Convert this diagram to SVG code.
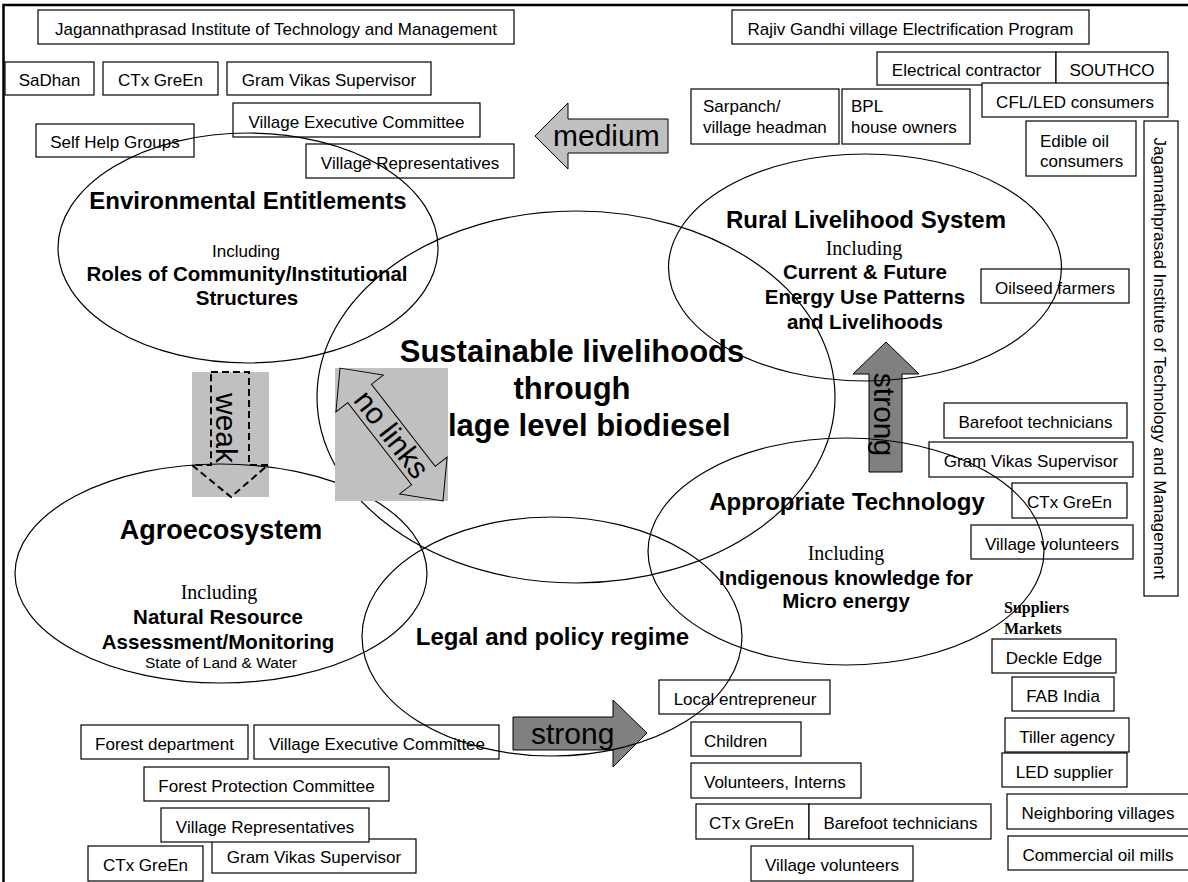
<svg xmlns="http://www.w3.org/2000/svg" width="1188" height="882" viewBox="0 0 1188 882">
  <style>
    .box rect { fill: #fff; stroke: #000; stroke-width: 1.2; }
    .box text { font-family: "Liberation Sans", Arial, sans-serif; font-size: 17px; text-anchor: middle; fill: #000; }
    .box text.l { text-anchor: start; }
    .ell { fill: none; stroke: #000; stroke-width: 1.2; }
    .h { font-family: "Liberation Sans", Arial, sans-serif; font-weight: bold; text-anchor: middle; fill: #000; }
    .s { font-family: "Liberation Sans", Arial, sans-serif; text-anchor: middle; fill: #000; }
    .inc { font-family: "Liberation Serif", "Times New Roman", serif; font-size: 20px; text-anchor: middle; fill: #000; }
    .lbl { font-family: "Liberation Sans", Arial, sans-serif; font-size: 30px; fill: #000; }
    .lt { fill: #c0c0c0; stroke: #000; stroke-width: 1; }
    .dk { fill: #808080; stroke: #000; stroke-width: 1; }
    .dash { fill: none; stroke: #000; stroke-width: 2; stroke-dasharray: 7 4; }
  </style>

  <rect width="1188" height="882" fill="#fff"/>
  <!-- page frame -->
  <path d="M3.5,882 V5 H1188" fill="none" stroke="#000" stroke-width="2.5"/>

  <!-- stakeholder boxes: top left -->
  <g id="jitm-top" class="box"><rect x="38" y="10" width="476" height="34"/><text x="276" y="34.5">Jagannathprasad Institute of Technology and Management</text></g>
  <g id="sadhan" class="box"><rect x="5" y="62" width="89" height="33"/><text x="49.5" y="86">SaDhan</text></g>
  <g id="ctx-top" class="box"><rect x="103" y="62" width="115" height="33"/><text x="160.5" y="86">CTx GreEn</text></g>
  <g id="gvs-top" class="box"><rect x="227" y="62" width="204" height="33"/><text x="329" y="86">Gram Vikas Supervisor</text></g>
  <g id="vec-top" class="box"><rect x="233" y="103" width="247" height="34"/><text x="356.5" y="128">Village Executive Committee</text></g>
  <g id="shg" class="box"><rect x="36" y="124" width="158" height="33"/><text x="115" y="148">Self Help Groups</text></g>
  <g id="vr-top" class="box"><rect x="306" y="144" width="208" height="34"/><text x="410" y="168.5">Village Representatives</text></g>

  <!-- stakeholder boxes: top right -->
  <g id="rgvep" class="box"><rect x="732" y="10" width="357" height="34"/><text x="910.5" y="34.5">Rajiv Gandhi village Electrification Program</text></g>
  <g id="elec-contractor" class="box"><rect x="877" y="52" width="179" height="33"/><text x="966.5" y="76">Electrical contractor</text></g>
  <g id="southco" class="box"><rect x="1056" y="52" width="112" height="33"/><text x="1112" y="76">SOUTHCO</text></g>
  <g id="cfl-led" class="box"><rect x="982" y="83" width="186" height="34"/><text x="1075" y="107.5">CFL/LED consumers</text></g>
  <g id="sarpanch" class="box"><rect x="691" y="89" width="148" height="55"/><text class="l" x="703" y="112">Sarpanch/</text><text class="l" x="703" y="133">village headman</text></g>
  <g id="bpl" class="box"><rect x="842" y="89" width="128" height="55"/><text class="l" x="851" y="112">BPL</text><text class="l" x="851" y="133">house owners</text></g>
  <g id="edible-oil" class="box"><rect x="1026" y="121" width="110" height="55"/><text class="l" x="1040" y="147">Edible oil</text><text class="l" x="1040" y="167">consumers</text></g>
  <g id="jitm-side" class="box"><rect x="1144" y="121" width="34" height="475"/><text transform="translate(1154,358.5) rotate(90)">Jagannathprasad Institute of Technology and Management</text></g>
  <g id="oilseed" class="box"><rect x="981" y="269" width="148" height="34"/><text x="1055" y="293.5">Oilseed farmers</text></g>

  <!-- stakeholder boxes: right middle -->
  <g id="barefoot-r" class="box"><rect x="944" y="403" width="183" height="35"/><text x="1035.5" y="428">Barefoot technicians</text></g>
  <g id="gvs-r" class="box"><rect x="929" y="442" width="204" height="35"/><text x="1031" y="467">Gram Vikas Supervisor</text></g>
  <g id="ctx-r" class="box"><rect x="1012" y="483" width="115" height="35"/><text x="1069.5" y="508">CTx GreEn</text></g>
  <g id="vv-r" class="box"><rect x="971" y="525" width="162" height="34"/><text x="1052" y="549.5">Village volunteers</text></g>

  <!-- suppliers and markets -->
  <g id="suppliers-markets">
    <text x="1004" y="613" font-family="Liberation Serif, Times New Roman, serif" font-size="16" font-weight="bold">Suppliers</text>
    <text x="1004" y="634" font-family="Liberation Serif, Times New Roman, serif" font-size="16" font-weight="bold">Markets</text>
  </g>
  <g id="deckle" class="box"><rect x="992" y="639" width="124" height="34"/><text x="1054" y="663.5">Deckle Edge</text></g>
  <g id="fab" class="box"><rect x="1012" y="677" width="102" height="34"/><text x="1063" y="701.5">FAB India</text></g>
  <g id="tiller" class="box"><rect x="1005" y="718" width="124" height="34"/><text x="1067" y="742.5">Tiller agency</text></g>
  <g id="led-supplier" class="box"><rect x="1002" y="753" width="125" height="34"/><text x="1064.5" y="777.5">LED supplier</text></g>
  <g id="neighbours" class="box"><rect x="1007" y="794" width="182" height="35"/><text x="1098" y="819">Neighboring villages</text></g>
  <g id="oil-mills" class="box"><rect x="1008" y="836" width="181" height="34"/><text x="1098" y="860.5">Commercial oil mills</text></g>

  <!-- stakeholder boxes: bottom middle -->
  <g id="entrepreneur" class="box"><rect x="659" y="680" width="171" height="34"/><text x="745" y="704.5">Local entrepreneur</text></g>
  <g id="children" class="box"><rect x="691" y="722" width="110" height="34"/><text class="l" x="704" y="746.5">Children</text></g>
  <g id="volunteers" class="box"><rect x="691" y="763" width="170" height="35"/><text class="l" x="704" y="788">Volunteers, Interns</text></g>
  <g id="ctx-b" class="box"><rect x="696" y="804" width="113" height="35"/><text x="751.5" y="829">CTx GreEn</text></g>
  <g id="barefoot-b" class="box"><rect x="809" y="804" width="182" height="35"/><text x="900.5" y="829">Barefoot technicians</text></g>
  <g id="vv-b" class="box"><rect x="751" y="846" width="162" height="35"/><text x="832" y="871">Village volunteers</text></g>

  <!-- stakeholder boxes: bottom left -->
  <g id="forest-dept" class="box"><rect x="81" y="725" width="167" height="34"/><text x="164.5" y="749.5">Forest department</text></g>
  <g id="vec-b" class="box"><rect x="254" y="725" width="245" height="34"/><text x="377" y="749.5">Village Executive Committee</text></g>
  <g id="fpc" class="box"><rect x="144" y="767" width="245" height="34"/><text x="266.5" y="791.5">Forest Protection Committee</text></g>
  <g id="gvs-b" class="box"><rect x="212" y="839" width="204" height="34"/><text x="314" y="863">Gram Vikas Supervisor</text></g>
  <g id="vr-b" class="box"><rect x="161" y="808" width="208" height="34"/><text x="265" y="832.5">Village Representatives</text></g>
  <g id="ctx-b2" class="box"><rect x="88" y="846" width="115" height="35"/><text x="145.5" y="870.5">CTx GreEn</text></g>

  <!-- linkage arrows between the domains -->
  <g id="connectors">
    <g id="link-weak">
      <rect x="192" y="372" width="77" height="125" fill="#c0c0c0"/>
      <polygon class="dash" points="211,372 249,372 249,465 268,465 231,497 192,465 211,465"/>
      <text class="lbl" text-anchor="middle" transform="translate(216,428) rotate(90)">weak</text>
    </g>
    <g id="link-medium">
      <polygon class="lt" points="535,136 568,103 568,119 668,119 668,153 568,153 568,169"/>
      <text class="lbl" x="553" y="146">medium</text>
    </g>
    <g id="link-strong-up">
      <polygon class="dk" points="886,342 919,374 902,374 902,472 869,472 869,374 853,374"/>
      <text class="lbl" text-anchor="middle" transform="translate(874,414.5) rotate(90)">strong</text>
    </g>
    <g id="link-strong-right">
      <polygon class="dk" points="513,717 613,717 613,700 647,733 613,767 613,750 513,750"/>
      <text class="lbl" x="531" y="744">strong</text>
    </g>
  </g>

  <!-- domain ellipses -->
  <g id="environmental-entitlements">
    <ellipse class="ell" cx="248" cy="248" rx="190" ry="115"/>
    <text class="h" x="248" y="209" font-size="24">Environmental Entitlements</text>
    <text class="s" x="246" y="257" font-size="17">Including</text>
    <text class="h" x="247" y="281" font-size="20.5">Roles of Community/Institutional</text>
    <text class="h" x="247" y="305" font-size="20.5">Structures</text>
  </g>
  <g id="rural-livelihood-system">
    <ellipse class="ell" cx="865" cy="267.5" rx="196.5" ry="113.5"/>
    <text class="h" x="866" y="228" font-size="24">Rural Livelihood System</text>
    <text class="inc" x="864" y="255">Including</text>
    <text class="h" x="865" y="279" font-size="20.5">Current &amp; Future</text>
    <text class="h" x="865" y="304" font-size="20.5">Energy Use Patterns</text>
    <text class="h" x="865" y="329" font-size="20.5">and Livelihoods</text>
  </g>
  <g id="agroecosystem">
    <ellipse class="ell" cx="221" cy="573.5" rx="206" ry="109.5"/>
    <text class="h" x="221" y="539" font-size="27">Agroecosystem</text>
    <text class="inc" x="219" y="599">Including</text>
    <text class="h" x="218" y="624" font-size="20.5">Natural Resource</text>
    <text class="h" x="218" y="649" font-size="20.5">Assessment/Monitoring</text>
    <text class="s" x="221" y="668" font-size="15.5">State of Land &amp; Water</text>
  </g>
  <g id="legal-policy-regime">
    <ellipse class="ell" cx="552" cy="636.5" rx="190" ry="119.5"/>
    <text class="h" x="552.5" y="645" font-size="24">Legal and policy regime</text>
  </g>
  <g id="appropriate-technology">
    <ellipse class="ell" cx="846" cy="551.5" rx="198" ry="113.5"/>
    <text class="h" x="847" y="510" font-size="24">Appropriate Technology</text>
    <text class="inc" x="846" y="560">Including</text>
    <text class="h" x="846" y="585" font-size="20.5">Indigenous knowledge for</text>
    <text class="h" x="846" y="608" font-size="20.5">Micro energy</text>
  </g>
  <g id="sustainable-livelihoods">
    <ellipse class="ell" cx="576" cy="397" rx="259" ry="186"/>
    <text class="h" x="572" font-size="31"><tspan x="572" y="362">Sustainable livelihoods</tspan><tspan x="572" y="399">through</tspan><tspan x="572" y="436">village level biodiesel</tspan></text>
  </g>

  <!-- "no links" marker sits above the central domain -->
  <g id="link-none" class="connector">
    <rect x="335" y="368" width="113" height="133" fill="#c0c0c0"/>
    <g transform="translate(391.5,434.5) rotate(52.2)">
      <polygon class="lt" points="-84,0 -52,-30 -52,-15 52,-15 52,-30 84,0 52,30 52,15 -52,15 -52,30"/>
      <text class="lbl" text-anchor="middle" x="0" y="10">no links</text>
    </g>
  </g>
</svg>
